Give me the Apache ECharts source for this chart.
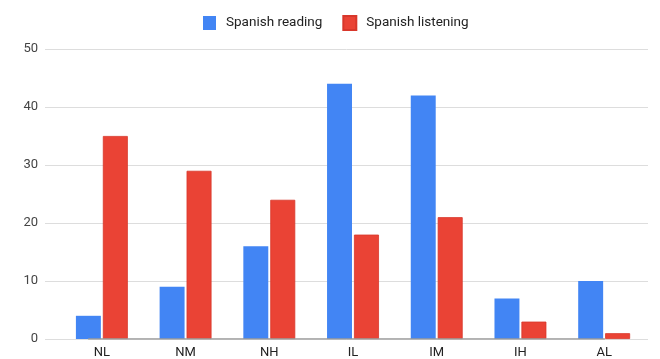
<!DOCTYPE html>
<html>
<head>
<meta charset="utf-8">
<script src="https://cdn.jsdelivr.net/npm/echarts@6/dist/echarts.min.js"></script>
<style>html,body{margin:0;padding:0;background:#fff}#c{width:660px;height:359px}</style>
</head>
<body>
<div id="c"></div>
<script>
const categories = ['NL', 'NM', 'NH', 'IL', 'IM', 'IH', 'AL'];
const readingValues = [4, 9, 16, 44, 42, 7, 10];
const listeningValues = [35, 29, 24, 18, 21, 3, 1];
const seriesNames = ['Spanish reading', 'Spanish listening'];

const chart = echarts.init(document.getElementById('c'), null, {renderer: 'canvas'});
const font = 'Roboto, Arial, sans-serif';
chart.setOption({
  animation: false,
  legend: {
    top: 10, left: 198,
    itemWidth: 13, itemHeight: 14, itemGap: 20,
    icon: 'rect',
    textStyle: {fontFamily: font, fontSize: 13.5, color: '#222', padding: [0, 0, 0, 5]},
    data: seriesNames
  },
  grid: [
    {left: 45, right: 12, top: 49, bottom: 20},
    {left: 60, right: 14, top: 49, bottom: 20}
  ],
  xAxis: [
    {type: 'category', gridIndex: 0, data: categories, show: false},
    {type: 'category', gridIndex: 1, data: categories,
     axisLine: {show: false}, axisTick: {show: false},
     axisLabel: {fontFamily: font, fontSize: 13, color: '#222', margin: 7}}
  ],
  yAxis: [
    {type: 'value', gridIndex: 0, min: 0, max: 50, interval: 10,
     axisLine: {show: false}, axisTick: {show: false},
     axisLabel: {fontFamily: font, fontSize: 13, color: '#444', margin: 7},
     splitLine: {lineStyle: {color: '#dddddd', width: 1}}},
    {type: 'value', gridIndex: 1, min: 0, max: 50, interval: 10, show: false,
     splitLine: {show: false}}
  ],
  series: [
    {type: 'line', xAxisIndex: 0, yAxisIndex: 0, data: [0,0,0,0,0,0,0], symbol: 'none',
     lineStyle: {color: '#999', width: 1.5}, silent: true, legendHoverLink: false, name: '_base'},
    {name: seriesNames[0], type: 'bar', xAxisIndex: 1, yAxisIndex: 1, data: readingValues,
     itemStyle: {color: '#4285F4'}, barGap: '8%', barCategoryGap: '38%'},
    {name: seriesNames[1], type: 'bar', xAxisIndex: 1, yAxisIndex: 1, data: listeningValues,
     itemStyle: {color: '#EA4335', borderColor: '#d8372b', borderWidth: 0.8}}
  ]
});
</script>
</body>
</html>
